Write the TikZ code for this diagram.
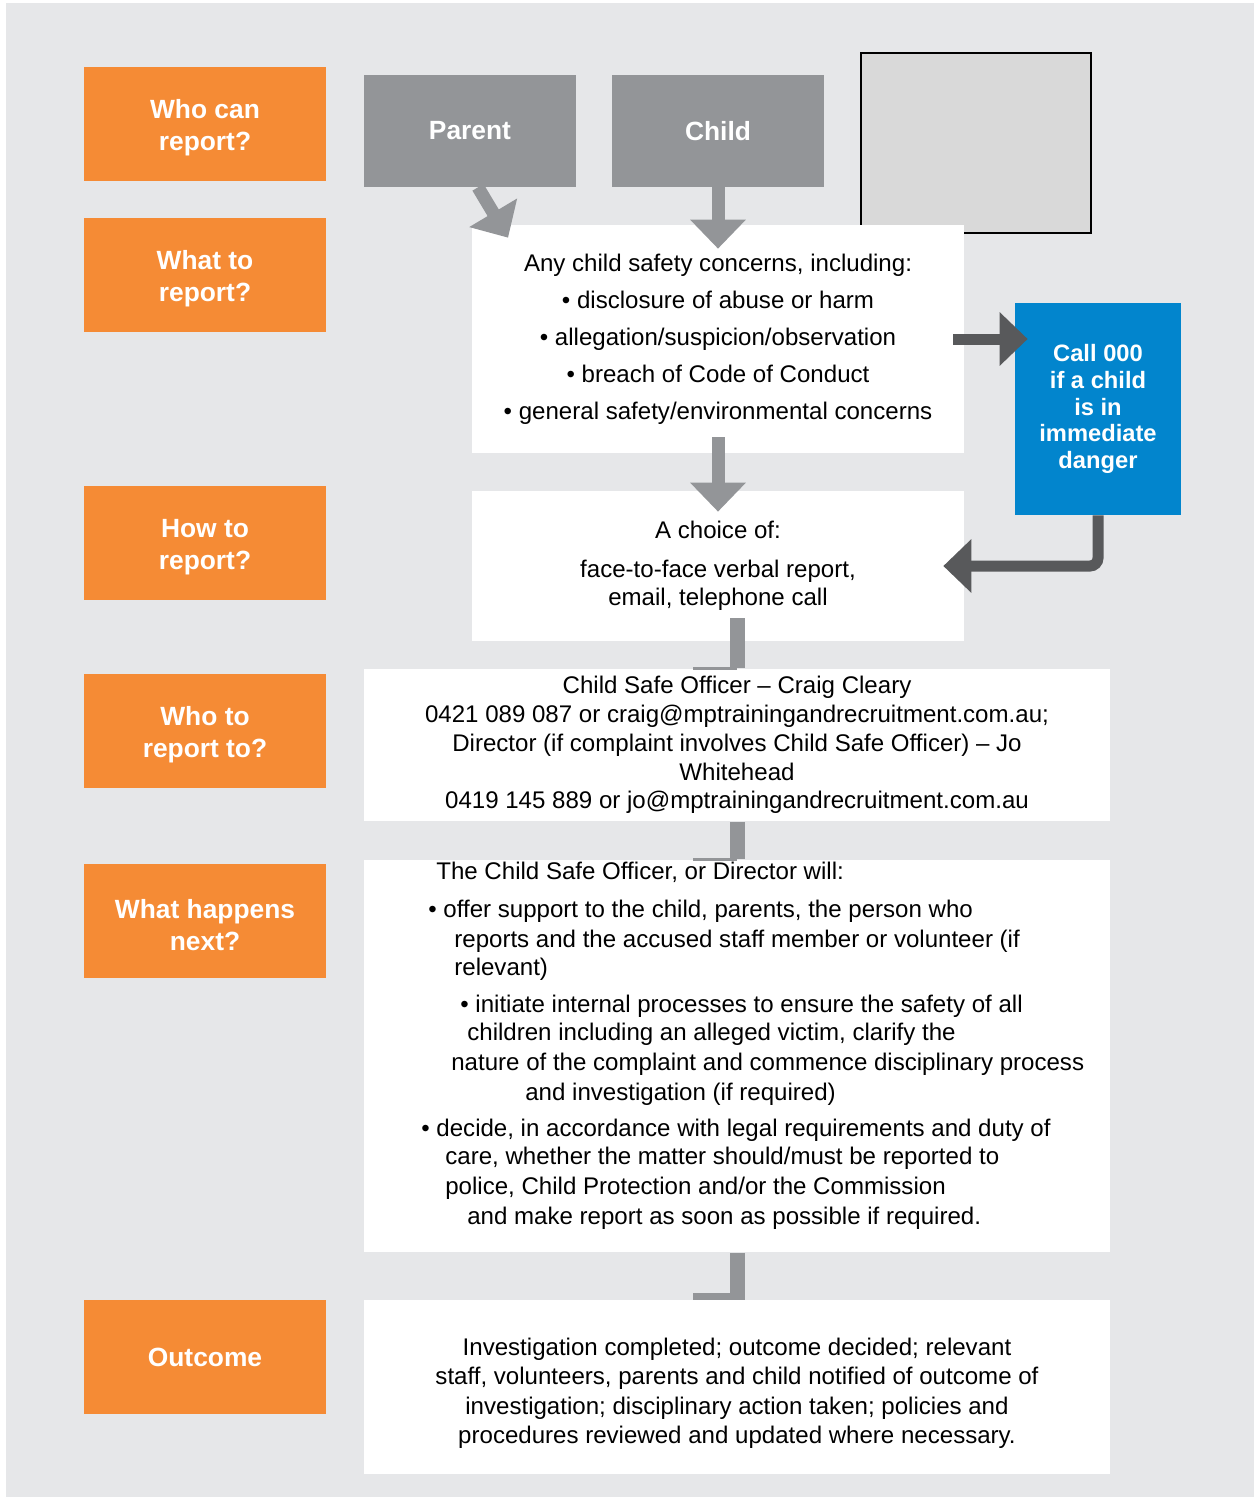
\documentclass[tikz,border=0pt]{standalone}
\usepackage{fontspec}
\setmainfont{Liberation Sans}
\usetikzlibrary{arrows.meta}
\definecolor{bggray}{HTML}{E6E7E9}
\definecolor{tagorange}{HTML}{F58B35}
\definecolor{boxgray}{HTML}{939598}
\definecolor{arrowdark}{HTML}{58595B}
\definecolor{callblue}{HTML}{0285CD}
\definecolor{photogray}{HTML}{D9D9D9}
\newcommand{\tagstrut}{\rule{0pt}{15.5pt}}
\tikzstyle{question} = [rectangle, fill=tagorange, minimum width=4.84cm, minimum height=2.28cm, align=center, text=white, font=\fontsize{15}{18.2}\selectfont\bfseries]
\tikzstyle{who} = [rectangle, fill=boxgray, minimum width=4.24cm, minimum height=2.24cm, text=white, font=\fontsize{15}{18}\selectfont\bfseries]
\tikzstyle{info} = [rectangle, fill=white, align=center, font=\fontsize{13.7}{16.4}\selectfont]
\tikzstyle{urgent} = [rectangle, fill=callblue, minimum width=3.32cm, minimum height=4.24cm, align=center, text=white, font=\fontsize{13.5}{15.2}\selectfont\bfseries]
\tikzstyle{photo} = [rectangle, fill=photogray, draw=black, line width=0.04cm, minimum width=4.62cm, minimum height=3.62cm]
\tikzstyle{arrow} = [line width=0.26cm, draw=boxgray, -{Triangle[width=1.08cm,length=0.58cm]}]
\tikzstyle{darrow} = [line width=0.22cm, draw=arrowdark, -{Triangle[width=1.04cm,length=0.56cm]}]
\tikzstyle{bar} = [line width=0.3cm, draw=boxgray]
\tikzstyle{foot} = [line width=0.06cm, draw=boxgray]
\tikzstyle{steptext} = [anchor=west, inner sep=0pt, text height=10pt, text depth=3pt, font=\fontsize{13.7}{16.4}\selectfont]

\begin{document}
\begin{tikzpicture}[x=0.02cm, y=-0.02cm]

    \useasboundingbox (0,0) rectangle (1254,1497);
    \fill[bggray] (6,3) rectangle (1254,1497);

    % questions on the left
    \node (WHOCAN) [question] at (205,124) {\tagstrut Who can\\report?};
    \node (WHAT) [question] at (205,275) {\tagstrut What to\\report?};
    \node (HOW) [question] at (205,543) {\tagstrut How to\\report?};
    \node (WHOM) [question] at (205,731) {\tagstrut Who to\\report to?};
    \node (NEXT) [question] at (205,921) {\tagstrut What happens\\next?};
    \node (OUTCOME) [question] at (205,1357) {Outcome};

    % who reports
    \node (PARENT) [who] at (470,131) {Parent};
    \node (CHILD) [who] at (718,131) {Child};
    \node (PHOTO) [photo] at (976,143) {};

    % the flow
    \node (CONCERNS) [info, minimum width=9.84cm, minimum height=4.56cm, font=\fontsize{13.7}{21}\selectfont] at (718,339)
        {Any child safety concerns, including:\\ • disclosure of abuse or harm\\ • allegation/suspicion/observation\\ • breach of Code of Conduct\\ • general safety/environmental concerns};
    \node (CHOICE) [info, minimum width=9.84cm, minimum height=3cm] at (718,566)
        {A choice of:\\[5.5pt] face-to-face verbal report,\\ email, telephone call};
    \node (CALL) [urgent] at (1098,409) {Call 000\\if a child\\is in\\immediate\\danger};
    \node (CONTACT) [info, minimum width=14.92cm, minimum height=3.06cm] at (737,745)
        {Child Safe Officer – Craig Cleary\\ 0421 089 087 or craig@mptrainingandrecruitment.com.au;\\ Director (if complaint involves Child Safe Officer) – Jo\\ Whitehead\\ 0419 145 889 or jo@mptrainingandrecruitment.com.au};
    \node (STEPS) [info, minimum width=14.92cm, minimum height=7.86cm] at (737,1056) {};
    \node (RESULT) [info, minimum width=14.92cm, minimum height=3.48cm, font=\fontsize{13.7}{16.8}\selectfont] at (737,1387)
        {\rule{0pt}{17pt}Investigation completed; outcome decided; relevant\\ staff, volunteers, parents and child notified of outcome of\\ investigation; disciplinary action taken; policies and\\ procedures reviewed and updated where necessary.};

    % what happens next
    \node (S1) [steptext] at (436,873) {The Child Safe Officer, or Director will:};
    \node (S2) [steptext] at (428,911) {• offer support to the child, parents, the person who};
    \node (S3) [steptext] at (454,941) {reports and the accused staff member or volunteer (if};
    \node (S4) [steptext] at (454,969) {relevant)};
    \node (S5) [steptext] at (460,1006) {• initiate internal processes to ensure the safety of all};
    \node (S6) [steptext] at (467,1034) {children including an alleged victim, clarify the};
    \node (S7) [steptext] at (451,1064) {nature of the complaint and commence disciplinary process};
    \node (S8) [steptext] at (525,1094) {and investigation (if required)};
    \node (S9) [steptext] at (421,1130) {• decide, in accordance with legal requirements and duty of};
    \node (S10) [steptext] at (445,1158) {care, whether the matter should/must be reported to};
    \node (S11) [steptext] at (445,1188) {police, Child Protection and/or the Commission};
    \node (S12) [steptext] at (467,1218) {and make report as soon as possible if required.};

    % arrows
    \draw [arrow] ([xshift=0.16cm]PARENT.south) -- ([xshift=-4.2cm, yshift=-0.26cm]CONCERNS.north);
    \draw [arrow] (CHILD.south) -- ([yshift=-0.48cm]CONCERNS.north);
    \draw [arrow] ([yshift=0.32cm]CONCERNS.south) -- ([yshift=-0.42cm]CHOICE.north);
    \draw [darrow] ([xshift=-0.22cm]CONCERNS.east) -- ([xshift=0.26cm]CONCERNS.east -| CALL.west);
    \draw [darrow, rounded corners=0.16cm] (CALL.south) |- ([xshift=-0.42cm]CHOICE.east);

    \draw [bar] ([yshift=0.46cm]CHOICE.south -| CONTACT.north) -- (CONTACT.north);
    \draw [foot] (CONTACT.north) -- ++(-44,0);
    \draw [bar] (CONTACT.south) -- (STEPS.north);
    \draw [foot] (STEPS.north) -- ++(-44,0);
    \draw [bar] (STEPS.south) -- (RESULT.north);
    \draw [foot, line width=0.14cm] ([yshift=0.07cm]RESULT.north) -- ++(-44,0);

\end{tikzpicture}
\end{document}
